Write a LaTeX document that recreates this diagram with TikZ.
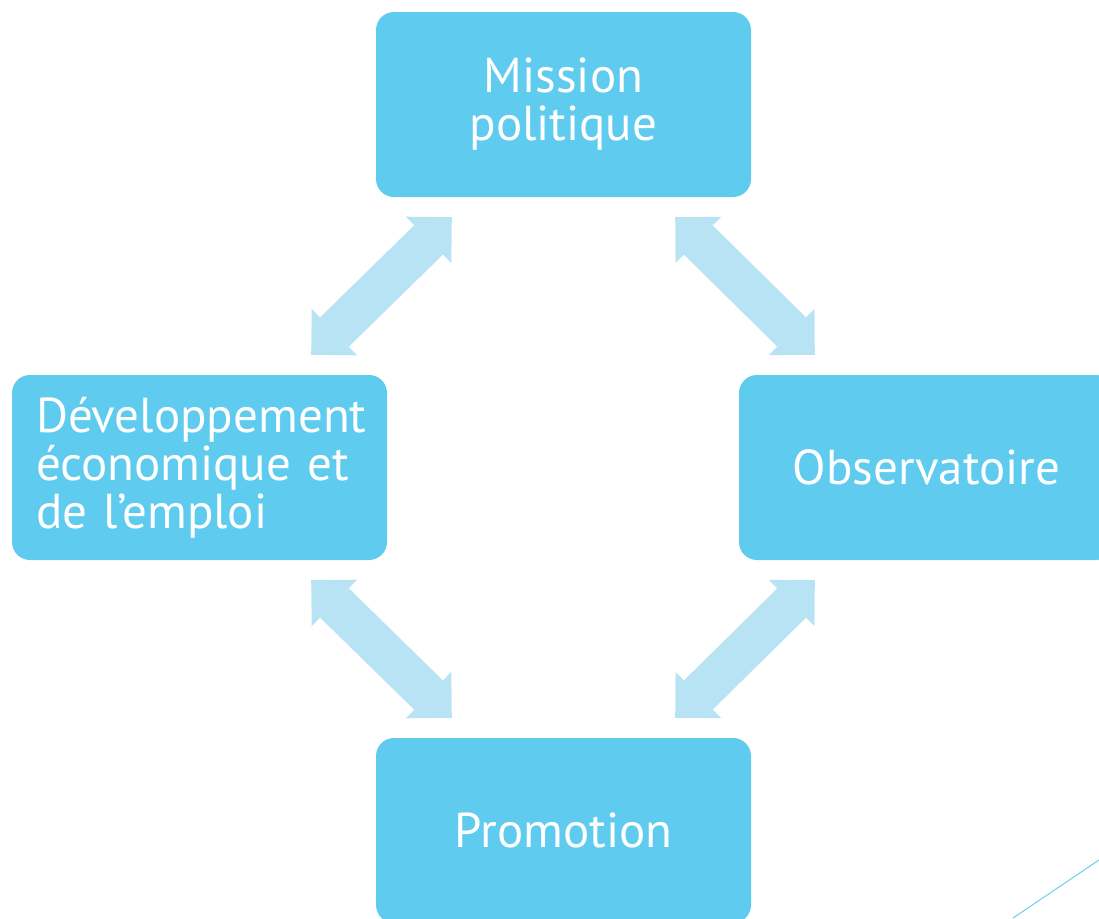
\documentclass[tikz,border=0pt]{standalone}
\usepackage{fontspec}
\setmainfont{PT Sans}
\usepackage{tikz}
\usetikzlibrary{positioning,arrows.meta}
\tikzstyle{cycleChart} = [x = 1pt, y = -1pt]
\definecolor{boxColor}{RGB}{94,203,239}
\definecolor{linkColor}{RGB}{183,227,245}
\definecolor{cornerColor}{RGB}{110,205,240}
\tikzstyle{boxStyle} = [fill=boxColor, rounded corners = 18pt, minimum width = 375pt, minimum height = 185pt, inner xsep = 24pt, text=white, font=\fontsize{49}{48}\selectfont, align=center]
\tikzstyle{boxLeftStyle} = [boxStyle, text width = 327pt, align=left]
\tikzstyle{linkStyle} = [color=linkColor, line width=41pt, {Triangle[width=65pt, length=32.5pt, line width=0pt]}-{Triangle[width=65pt, length=32.5pt, line width=0pt]}]
\tikzstyle{cornerLine} = [color=cornerColor, line width=1pt]
\newcommand{\gapX}{76}
\newcommand{\gapY}{20}

\begin{document}
\begin{tikzpicture}[cycleChart]
    \useasboundingbox (0,0) rectangle (1099,918);
    % the four boxes
    \node [boxStyle] (mission) at (563.5,104.5) {Mission\\politique};
    \node [boxLeftStyle] (dev) at (199.5,467.5) {Développement\\économique et\\de l’emploi};
    \node [boxStyle] (obs) at (926.5,467.5) {Observatoire};
    \node [boxStyle] (promo) at (563.5,830.5) {Promotion};
    % arrow ends
    \coordinate (missionL) at ([shift={(\gapX,\gapY)}]mission.south west);
    \coordinate (missionR) at ([shift={(-\gapX,\gapY)}]mission.south east);
    \coordinate (devTop) at ([shift={(-\gapX,-\gapY)}]dev.north east);
    \coordinate (devBottom) at ([shift={(-\gapX,\gapY)}]dev.south east);
    \coordinate (obsTop) at ([shift={(\gapX,-\gapY)}]obs.north west);
    \coordinate (obsBottom) at ([shift={(\gapX,\gapY)}]obs.south west);
    \coordinate (promoL) at ([shift={(\gapX,-\gapY)}]promo.north west);
    \coordinate (promoR) at ([shift={(-\gapX,-\gapY)}]promo.north east);
    \draw [linkStyle] (missionL) -- (devTop);
    \draw [linkStyle] (missionR) -- (obsTop);
    \draw [linkStyle] (devBottom) -- (promoL);
    \draw [linkStyle] (obsBottom) -- (promoR);
    % corner line
    \draw [cornerLine] (1013,918) -- (1099,860);
\end{tikzpicture}
\end{document}
